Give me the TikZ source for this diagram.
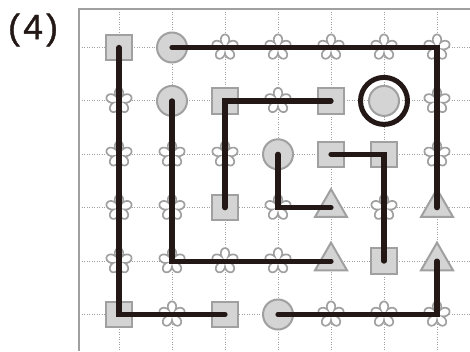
\documentclass[tikz,border=0pt]{standalone}
\usepackage{fontspec}
\setmainfont{Liberation Sans}
\newfontfamily\lblfont[FakeBold=1.2]{Liberation Sans}
\usetikzlibrary{shapes.geometric}
\definecolor{ink}{HTML}{231815}
\definecolor{gline}{HTML}{A0A0A0}
\definecolor{gfill}{HTML}{D4D4D4}
\tikzset{
 sq/.style={rectangle,draw=gline,fill=gfill,line width=2pt,minimum size=25.5pt,inner sep=0pt},
 circ/.style={circle,draw=gline,fill=gfill,line width=2pt,minimum size=30pt,inner sep=0pt},
 tri/.style={regular polygon,regular polygon sides=3,draw=gline,fill=gfill,line width=2pt,minimum size=37pt,inner sep=0pt},
 ringc/.style={circle,draw=ink,line width=5pt,minimum size=47pt,inner sep=0pt},
 route/.style={draw=ink,line width=5.2pt,line cap=round,line join=miter},
 gridl/.style={draw=gline,line width=0.9pt,dash pattern=on 1pt off 1.5pt},
 frame/.style={draw=gline,line width=2pt},
 flower/.pic={\filldraw[draw=gline,fill=white,line width=1.7pt]
   plot[domain=0:360,samples=241] ({(5.8+7.2*abs(cos(2.5*\x))^0.8)*cos(\x-90)},{(5.8+7.2*abs(cos(2.5*\x))^0.8)*sin(\x-90)}) -- cycle;}
}
\begin{document}
\begin{tikzpicture}[x=1pt,y=-1pt]
\useasboundingbox (0,0) rectangle (470,351);
\foreach \r in {1,...,6}{\foreach \c in {1,...,7}{
  \coordinate (p-\r-\c) at ({119+53*(\c-1)},{47.5+53.4*(\r-1)});}}
% dotted grid
\foreach \c in {1,...,7}{\draw[gridl] ({119+53*(\c-1)},9) -- ({119+53*(\c-1)},351);}
\foreach \r in {1,...,6}{\draw[gridl] (79,{47.5+53.4*(\r-1)}) -- (470,{47.5+53.4*(\r-1)});}
% frame
\draw[frame] (79,351) -- (79,9) -- (470,9);
% label
\node[font=\lblfont\fontsize{35}{35}\selectfont,text=ink,anchor=west,inner sep=0pt] (lbl) at (8,30) {(\kern3.5pt4\kern3.5pt)};
% flowers
\foreach \r/\c in {1/3,1/4,1/5,1/6,1/7,2/1,2/4,2/7,3/1,3/2,3/3,3/7,4/1,4/2,4/4,4/6,5/1,5/2,5/3,5/4,6/2,6/5,6/6,6/7}{
  \pic at (p-\r-\c) {flower};}
% squares
\node[sq] (s11) at (p-1-1) {};
\node[sq] (s23) at (p-2-3) {};
\node[sq] (s25) at (p-2-5) {};
\node[sq] (s35) at (p-3-5) {};
\node[sq] (s36) at (p-3-6) {};
\node[sq] (s43) at (p-4-3) {};
\node[sq] (s56) at (p-5-6) {};
\node[sq] (s61) at (p-6-1) {};
\node[sq] (s63) at (p-6-3) {};
% circles
\node[circ] (c12) at (p-1-2) {};
\node[circ] (c22) at (p-2-2) {};
\node[circ] (c26) at (p-2-6) {};
\node[ringc] (r26) at (p-2-6) {};
\node[circ] (c34) at (p-3-4) {};
\node[circ] (c64) at (p-6-4) {};
% triangles
\node[tri] (t45) at (p-4-5) {};
\node[tri] (t47) at (p-4-7) {};
\node[tri] (t55) at (p-5-5) {};
\node[tri] (t57) at (p-5-7) {};
% routes
\draw[route] (s11.center) -- (s61.center) -- (s63.center);
\draw[route] (c12.center) -- (p-1-7) -- (t47.center);
\draw[route] (c22.center) -- (p-5-2) -- (t55.center);
\draw[route] (s25.center) -- (s23.center) -- (s43.center);
\draw[route] (c34.center) -- (p-4-4) -- (t45.center);
\draw[route] (s35.center) -- (s36.center) -- (s56.center);
\draw[route] (c64.center) -- (p-6-7) -- (t57.center);
\end{tikzpicture}
\end{document}
